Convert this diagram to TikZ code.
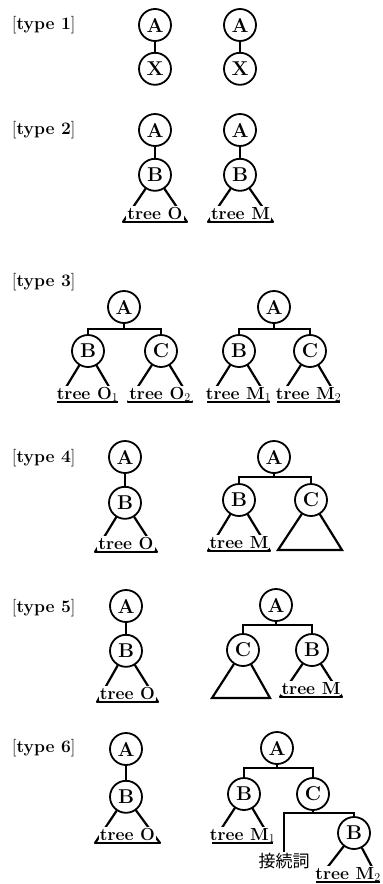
\documentclass[tikz,border=0pt]{standalone}
\usepackage{fontspec}
\usetikzlibrary{calc, positioning}
\newfontfamily\jfont{Noto Sans CJK JP}

% subtree under a node: parent, name, left x, right x, base y, text
\newcommand{\subtree}[6]{%
  \coordinate (#2l) at (#3,#5);
  \coordinate (#2r) at (#4,#5);
  \draw[side] (#1) -- (#2l);
  \draw[side] (#1) -- (#2r);
  \node[leaf] (#2) at ($(#2l)!0.5!(#2r)$) {#6};
  \draw[basis] (#2l) -- (#2r);}

\begin{document}
\begin{tikzpicture}[x=1pt, y=-1pt,
  nd/.style={circle, draw, line width=1.8pt, minimum size=32pt, inner sep=0pt,
    font=\fontsize{20}{22}\selectfont\bfseries},
  kind/.style={anchor=west, inner sep=0pt, font=\fontsize{17.5}{20}\selectfont\bfseries},
  stem/.style={line width=1.2pt},
  side/.style={line width=2.2pt, line cap=round},
  basis/.style={line width=1.6pt},
  leaf/.style={anchor=base, yshift=3pt, fill=white, inner sep=1pt,
    font=\fontsize{17.5}{20}\selectfont\bfseries}]
  \useasboundingbox (0,0) rectangle (383,884);
  \clip (0,0) rectangle (383,884);

  % type 1
  \node[kind] (t1) at (12,25) {\textmd{[}type 1\textmd{]}};
  \node[nd] (a1) at (155,25) {A};
  \node[nd, below=10pt of a1] (x1) {X};
  \node[nd] (a1m) at (240,25) {A};
  \node[nd, below=10pt of a1m] (x1m) {X};
  \draw[stem] (a1) -- (x1);
  \draw[stem] (a1m) -- (x1m);

  % type 2
  \node[kind] (t2) at (12,130) {\textmd{[}type 2\textmd{]}};
  \node[nd] (a2) at (155,130) {A};
  \node[nd, below=11pt of a2] (b2) {B};
  \node[nd] (a2m) at (240,130) {A};
  \node[nd, below=11pt of a2m] (b2m) {B};
  \draw[stem] (a2) -- (b2);
  \draw[stem] (a2m) -- (b2m);
  \subtree{b2}{o2}{123}{187}{222}{tree O}
  \subtree{b2m}{m2}{208}{273}{222}{tree M}

  % type 3
  \node[kind] (t3) at (12,282) {\textmd{[}type 3\textmd{]}};
  \node[nd] (a3) at (124,307) {A};
  \node[nd] (b3) at (88,351) {B};
  \node[nd] (c3) at (161,351) {C};
  \coordinate (k3) at (124,329);
  \draw[stem] (a3) -- (k3);
  \draw[stem] (b3) |- (k3) -| (c3);
  \subtree{b3}{o31}{57}{118}{402}{tree O$_1$}
  \subtree{c3}{o32}{128}{192}{402}{tree O$_2$}
  \node[nd] (a3m) at (274,307) {A};
  \node[nd] (b3m) at (239,351) {B};
  \node[nd] (c3m) at (310,351) {C};
  \coordinate (k3m) at (274,329);
  \draw[stem] (a3m) -- (k3m);
  \draw[stem] (b3m) |- (k3m) -| (c3m);
  \subtree{b3m}{m31}{207}{270}{402}{tree M$_1$}
  \subtree{c3m}{m32}{277}{340}{402}{tree M$_2$}

  % type 4
  \node[kind] (t4) at (12,458) {\textmd{[}type 4\textmd{]}};
  \node[nd] (a4) at (125,457) {A};
  \node[nd, below=12pt of a4] (b4) {B};
  \draw[stem] (a4) -- (b4);
  \subtree{b4}{o4}{95}{157}{552}{tree O}
  \node[nd] (a4m) at (274,457) {A};
  \node[nd] (b4m) at (239,500) {B};
  \node[nd] (c4m) at (311,500) {C};
  \coordinate (k4m) at (274,477);
  \draw[stem] (a4m) -- (k4m);
  \draw[stem] (b4m) |- (k4m) -| (c4m);
  \subtree{b4m}{m4}{208}{270}{551}{tree M}
  \coordinate (c4l) at (278,550);
  \coordinate (c4r) at (342,550);
  \draw[side] (c4m) -- (c4l) -- (c4r) -- (c4m);

  % type 5
  \node[kind] (t5) at (12,608) {\textmd{[}type 5\textmd{]}};
  \node[nd] (a5) at (126,606) {A};
  \node[nd, below=11pt of a5] (b5) {B};
  \draw[stem] (a5) -- (b5);
  \subtree{b5}{o5}{97}{158}{702}{tree O}
  \node[nd] (a5m) at (276,605) {A};
  \node[nd] (c5m) at (243,650) {C};
  \node[nd] (b5m) at (312,650) {B};
  \coordinate (k5m) at (276,625);
  \draw[stem] (a5m) -- (k5m);
  \draw[stem] (c5m) |- (k5m) -| (b5m);
  \coordinate (c5l) at (212,698);
  \coordinate (c5r) at (270,698);
  \draw[side] (c5m) -- (c5l) -- (c5r) -- (c5m);
  \subtree{b5m}{m5}{280}{342}{697}{tree M}

  % type 6
  \node[kind] (t6) at (12,748) {\textmd{[}type 6\textmd{]}};
  \node[nd] (a6) at (126,749) {A};
  \node[nd, below=14pt of a6] (b6) {B};
  \draw[stem] (a6) -- (b6);
  \subtree{b6}{o6}{95}{160}{843}{tree O}
  \node[nd] (a6m) at (277,748) {A};
  \node[nd] (b6m) at (244,794) {B};
  \node[nd] (c6m) at (313,794) {C};
  \coordinate (k6m) at (277,768);
  \draw[stem] (a6m) -- (k6m);
  \draw[stem] (b6m) |- (k6m) -| (c6m);
  \subtree{b6m}{m61}{212}{273}{843}{tree M$_1$}
  \node[nd] (b6n) at (354,833) {B};
  \node[inner sep=1pt, font=\fontsize{17}{18}\selectfont\jfont] (cj) at (284,861) {接続詞};
  \coordinate (k6c) at (313,813);
  \draw[stem] (c6m) -- (k6c);
  \draw[stem] (cj) |- (k6c) -| (b6n);
  \subtree{b6n}{m62}{316}{380}{882}{tree M$_2$}
\end{tikzpicture}
\end{document}
